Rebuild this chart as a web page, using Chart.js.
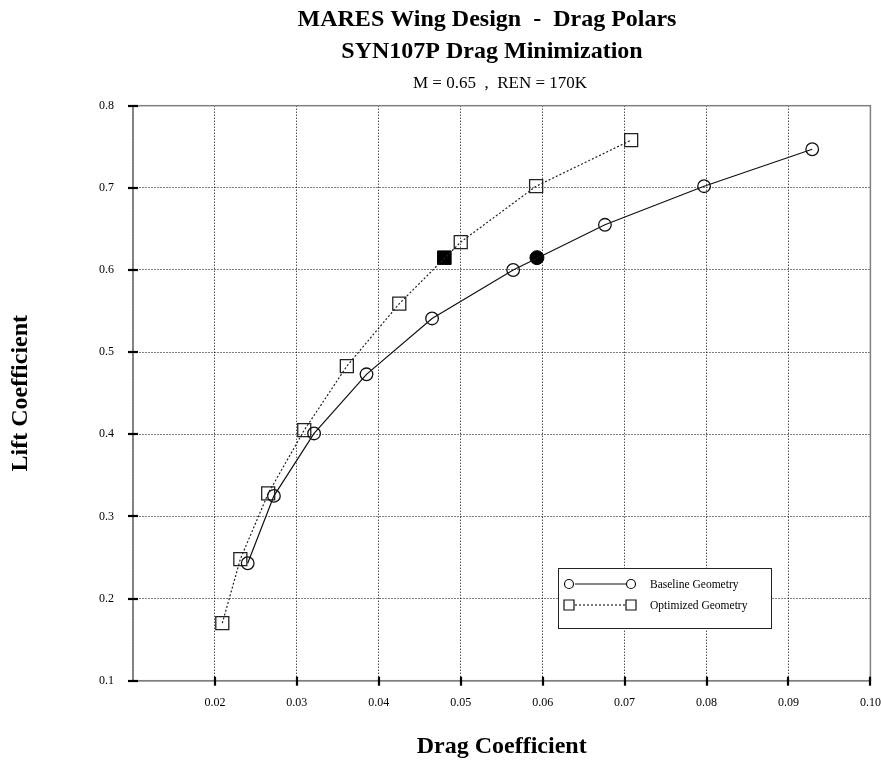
<!DOCTYPE html>
<html>
<head>
<meta charset="utf-8">
<title>MARES Wing Design - Drag Polars</title>
<script src="https://cdn.jsdelivr.net/npm/chart.js@4.4.0/dist/chart.umd.min.js"></script>
<style>
  html, body { margin: 0; padding: 0; background: #fff; }
  canvas { display: block; }
</style>
</head>
<body>
<canvas id="polar" width="881" height="763"></canvas>
<script>
// drag polars (Cd, Cl)
var baselineCd = [0.0240, 0.0272, 0.0321, 0.0385, 0.0465, 0.0564, 0.0676, 0.0797, 0.0929];
var baselineCl = [0.243, 0.325, 0.401, 0.473, 0.541, 0.600, 0.655, 0.702, 0.747];
var optimizedCd = [0.0209, 0.0231, 0.0265, 0.0309, 0.0361, 0.0425, 0.0500, 0.0592, 0.0708];
var optimizedCl = [0.170, 0.248, 0.328, 0.405, 0.483, 0.559, 0.634, 0.702, 0.758];
// design points (filled markers)
var baselineDesign = [0.0593, 0.615];
var optimizedDesign = [0.0480, 0.615];

var xTicks = [0.02, 0.03, 0.04, 0.05, 0.06, 0.07, 0.08, 0.09, 0.10];
var xTickLabels = ["0.02", "0.03", "0.04", "0.05", "0.06", "0.07", "0.08", "0.09", "0.10"];
var yTicks = [0.1, 0.2, 0.3, 0.4, 0.5, 0.6, 0.7, 0.8];
var yTickLabels = ["0.1", "0.2", "0.3", "0.4", "0.5", "0.6", "0.7", "0.8"];

var serif = "'Liberation Serif', 'Times New Roman', serif";

function pts(xs, ys) {
  var out = [];
  for (var i = 0; i < xs.length; i++) out.push({x: xs[i], y: ys[i]});
  return out;
}
function labelFor(v, ticks, labels) {
  for (var i = 0; i < ticks.length; i++) {
    if (Math.abs(ticks[i] - v) < 1e-6) return labels[i];
  }
  return "";
}

var extras = {
  id: "extras",
  afterDraw: function(chart) {
    var ctx = chart.ctx, a = chart.chartArea;
    var x = chart.scales.x, y = chart.scales.y;
    ctx.save();
    // frame
    ctx.strokeStyle = "#808080";
    ctx.lineWidth = 1.5;
    ctx.strokeRect(a.left, a.top, a.right - a.left, a.bottom - a.top);
    // tick marks crossing the axes
    ctx.strokeStyle = "#000";
    ctx.lineWidth = 2.2;
    xTicks.forEach(function(v) {
      var px = Math.round(x.getPixelForValue(v));
      ctx.beginPath(); ctx.moveTo(px, a.bottom - 4); ctx.lineTo(px, a.bottom + 5); ctx.stroke();
    });
    yTicks.forEach(function(v) {
      var py = Math.round(y.getPixelForValue(v));
      ctx.beginPath(); ctx.moveTo(a.left - 5, py); ctx.lineTo(a.left + 5, py); ctx.stroke();
    });

    // titles
    ctx.fillStyle = "#000";
    ctx.textAlign = "center";
    ctx.textBaseline = "alphabetic";
    ctx.font = "bold 24px " + serif;
    ctx.fillText("MARES Wing Design  -  Drag Polars", 487, 26);
    ctx.fillText("SYN107P Drag Minimization", 492, 58);
    ctx.font = "17px " + serif;
    ctx.fillText("M = 0.65  ,  REN = 170K", 500, 88);

    // legend box
    ctx.fillStyle = "#fff";
    ctx.fillRect(558, 568, 214, 60);
    ctx.strokeStyle = "#222";
    ctx.lineWidth = 1;
    ctx.strokeRect(558.5, 568.5, 213, 60);
    var rows = [
      {ds: chart.data.datasets[0], y: 584},
      {ds: chart.data.datasets[1], y: 605}
    ];
    rows.forEach(function(r) {
      ctx.strokeStyle = "#111";
      ctx.lineWidth = 1.1;
      ctx.setLineDash(r.ds.borderDash || []);
      ctx.beginPath(); ctx.moveTo(575, r.y); ctx.lineTo(626, r.y); ctx.stroke();
      ctx.setLineDash([]);
      ctx.lineWidth = 1.2;
      [569, 631].forEach(function(cx) {
        ctx.beginPath();
        if (r.ds.pointStyle === "rect") ctx.rect(cx - 5, r.y - 5, 10, 10);
        else ctx.arc(cx, r.y, 4.5, 0, Math.PI * 2);
        ctx.fillStyle = "#fff";
        ctx.fill();
        ctx.stroke();
      });
      ctx.fillStyle = "#000";
      ctx.textAlign = "left";
      ctx.textBaseline = "middle";
      ctx.font = "11.5px " + serif;
      ctx.fillText(r.ds.label, 650, r.y + 1);
    });
    ctx.restore();
  }
};

new Chart(document.getElementById("polar"), {
  type: "scatter",
  data: {
    datasets: [
      {
        label: "Baseline Geometry",
        data: pts(baselineCd, baselineCl),
        showLine: true,
        borderColor: "#111",
        borderWidth: 1.2,
        pointStyle: "circle",
        pointRadius: 6.3,
        pointBorderWidth: 1.3,
        pointBorderColor: "#111",
        pointBackgroundColor: "rgba(0,0,0,0)",
        tension: 0
      },
      {
        label: "Optimized Geometry",
        data: pts(optimizedCd, optimizedCl),
        showLine: true,
        borderColor: "#222",
        borderWidth: 1.2,
        borderDash: [2, 2],
        pointStyle: "rect",
        pointRadius: 9.2,
        pointBorderWidth: 1.3,
        pointBorderColor: "#222",
        pointBackgroundColor: "rgba(0,0,0,0)",
        tension: 0
      },
      {
        label: "Baseline design point",
        data: [{x: baselineDesign[0], y: baselineDesign[1]}],
        pointStyle: "circle",
        pointRadius: 7,
        pointBorderWidth: 1,
        pointBorderColor: "#000",
        pointBackgroundColor: "#000"
      },
      {
        label: "Optimized design point",
        data: [{x: optimizedDesign[0], y: optimizedDesign[1]}],
        pointStyle: "rect",
        pointRadius: 9.6,
        pointBorderWidth: 1,
        pointBorderColor: "#000",
        pointBackgroundColor: "#000"
      }
    ]
  },
  options: {
    responsive: false,
    animation: false,
    layout: { padding: { top: 105.7, right: 10.3, bottom: 0, left: 0 } },
    plugins: { legend: { display: false }, tooltip: { enabled: false }, title: { display: false } },
    scales: {
      x: {
        type: "linear",
        min: 0.01,
        max: 0.10,
        afterFit: function(s) { s.height = 82.3; s.paddingLeft = 0; s.paddingRight = 0; },
        ticks: {
          stepSize: 0.01,
          padding: 15,
          color: "#000",
          font: { family: serif, size: 12 },
          maxRotation: 0,
          callback: function(v) { return labelFor(v, xTicks, xTickLabels); }
        },
        grid: { color: "#000", lineWidth: 1, drawTicks: false },
        border: { display: true, color: "#808080", width: 1.5, dash: [1, 2] },
        title: {
          display: true,
          text: "Drag Coefficient",
          color: "#000",
          font: { family: serif, size: 24, weight: "bold" },
          padding: { top: 0, bottom: 2 }
        }
      },
      y: {
        type: "linear",
        min: 0.1,
        max: 0.8,
        afterFit: function(s) { s.width = 133; },
        ticks: {
          stepSize: 0.1,
          padding: 19,
          color: "#000",
          font: { family: serif, size: 12 },
          callback: function(v) { return labelFor(v, yTicks, yTickLabels); }
        },
        grid: { color: "#000", lineWidth: 1, drawTicks: false },
        border: { display: true, color: "#808080", width: 1.5, dash: [1, 2] },
        title: {
          display: true,
          text: "Lift Coefficient",
          color: "#000",
          font: { family: serif, size: 24, weight: "bold" },
          padding: { top: 6, bottom: 0 }
        }
      }
    }
  },
  plugins: [extras]
});
</script>
</body>
</html>
